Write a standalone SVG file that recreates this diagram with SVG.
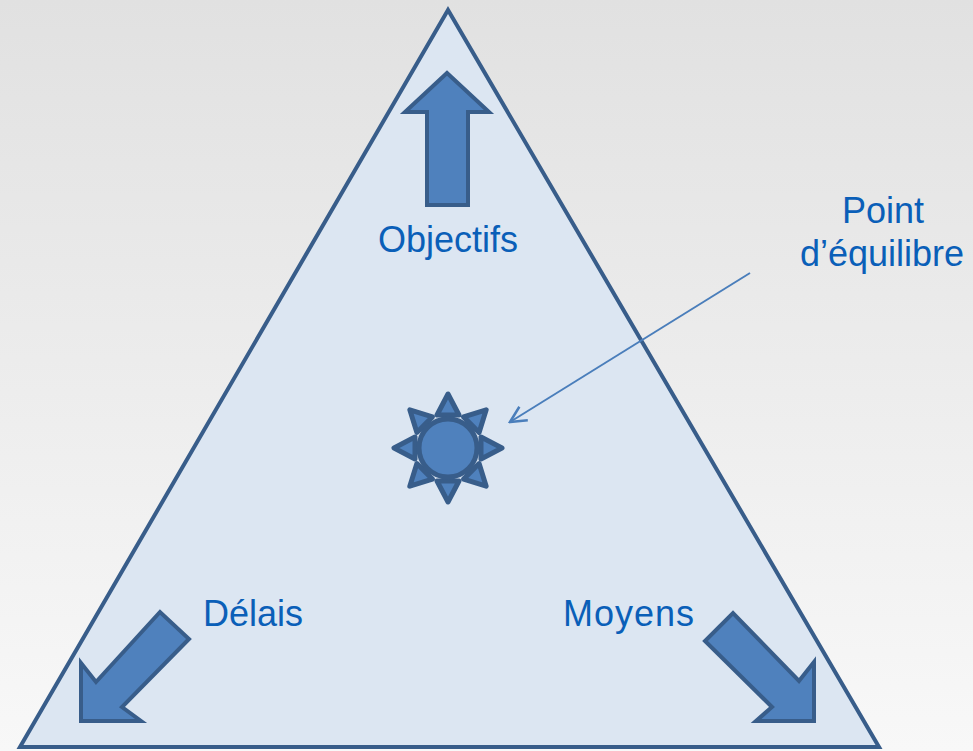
<svg xmlns="http://www.w3.org/2000/svg" width="973" height="751" viewBox="0 0 973 751">
<defs>
<linearGradient id="bg" x1="0" y1="0" x2="0" y2="1">
<stop offset="0" stop-color="#e1e1e1"/>
<stop offset="1" stop-color="#f8f8f8"/>
</linearGradient>
<marker id="open" viewBox="0 0 20 20" refX="18" refY="10" markerWidth="20" markerHeight="20" markerUnits="userSpaceOnUse" orient="auto">
<path d="M2,2 L18,10 L2,18" fill="none" stroke="#4a7ebb" stroke-width="2.5"/>
</marker>
<g id="ray">
<polygon points="-11,-33 11,-33 0,-54" />
</g>
</defs>
<style>
.lbl{font-family:"Liberation Sans",Arial,sans-serif;font-size:36px;fill:#0a5fb8;}
.blk{fill:#4f81bd;stroke:#385d8a;stroke-width:4;stroke-linejoin:miter;}
.sunp{fill:#4f81bd;stroke:#385d8a;stroke-width:5;stroke-linejoin:round;}
</style>
<rect width="973" height="751" fill="url(#bg)"/>
<g id="triangle">
<polygon points="448,10 20,747 879,747" fill="#dce6f2" stroke="#385d8a" stroke-width="4"/>
</g>
<g id="arrow-up">
<polygon class="blk" points="447,73 405,112 427,112 427,205 468,205 468,112 489,112"/>
</g>
<g id="arrow-delais">
<polygon class="blk" points="81,721 81,663 96,682 160,612 189,639 122,707 141,721"/>
</g>
<g id="arrow-moyens">
<polygon class="blk" points="814,721 814,662 799,681 733,613 705,641 772,707 756,721"/>
</g>
<g id="sun" transform="translate(448,448)">
<g class="sunp">
<use href="#ray"/>
<use href="#ray" transform="rotate(45)"/>
<use href="#ray" transform="rotate(90)"/>
<use href="#ray" transform="rotate(135)"/>
<use href="#ray" transform="rotate(180)"/>
<use href="#ray" transform="rotate(225)"/>
<use href="#ray" transform="rotate(270)"/>
<use href="#ray" transform="rotate(315)"/>
</g>
<circle class="sunp" r="29"/>
</g>
<g id="connectors">
<line x1="750" y1="273" x2="510" y2="422" stroke="#4a7ebb" stroke-width="2" marker-end="url(#open)"/>
</g>
<g id="labels">
<text class="lbl" x="448" y="252" text-anchor="middle">Objectifs</text>
<text class="lbl" x="203" y="626">Délais</text>
<text class="lbl" x="563" y="626" textLength="131">Moyens</text>
<text class="lbl" x="883" y="223" text-anchor="middle">Point</text>
<text class="lbl" x="882" y="266" text-anchor="middle">d’équilibre</text>
</g>
</svg>
